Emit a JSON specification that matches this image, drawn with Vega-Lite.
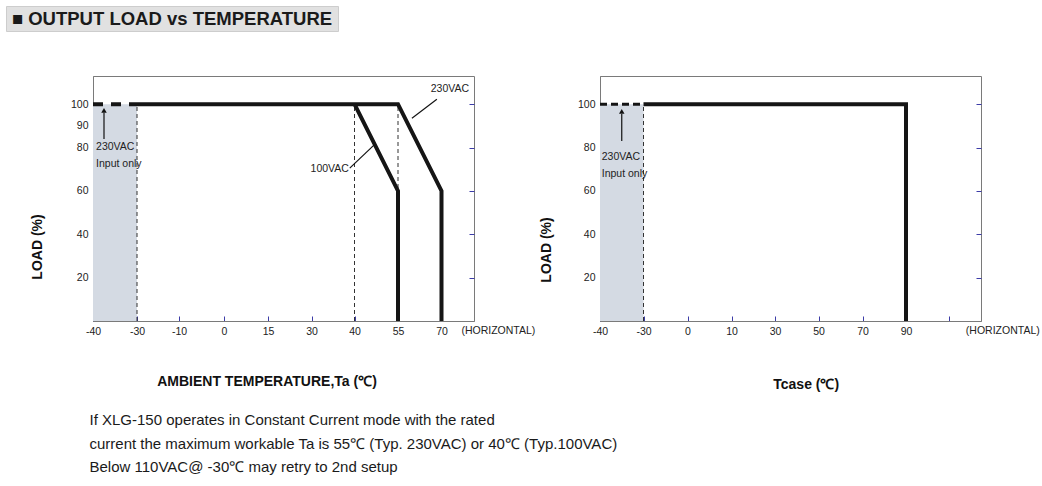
{
  "$schema": "https://vega.github.io/schema/vega-lite/v6.json",
  "padding": 5,
  "background": "white",
  "spacing": 43,
  "title": {
    "text": ["If XLG-150 operates in Constant Current mode with the rated", "current the maximum workable Ta is 55℃ (Typ. 230VAC) or 40℃ (Typ.100VAC)", "Below 110VAC@ -30℃ may retry to 2nd setup"],
    "orient": "bottom", "anchor": "start", "dx": 84, "offset": 21.5,
    "fontSize": 15, "fontWeight": "normal", "font": "Liberation Sans", "lineHeight": 23.5, "color": "#1a1a1a"
  },
  "vconcat": [
    {
      "width": 332, "height": 25,
      "view": {"fill": "#e1e1e1", "stroke": "#cdcdcd"},
      "data": {"values": [{"label": "■ OUTPUT LOAD vs TEMPERATURE"}]},
      "mark": {"type": "text", "fontSize": 18.5, "fontWeight": "bold", "font": "Liberation Sans", "color": "#1a1a1a", "align": "center", "baseline": "middle"},
      "encoding": {"text": {"field": "label"}}
    },
    {
      "hconcat": [
        {
          "width": 1, "height": 245,
          "view": {"stroke": null},
          "data": {"values": [{}]},
          "mark": {"type": "point", "opacity": 0, "size": 0},
          "encoding": {}
        },
        {
          "width": 381, "height": 245,
          "view": {"stroke": "#7a7a7a"},
          "resolve": {"axis": {"y": "independent"}},
          "layer": [
            {
              "data": {"values": [{"t": -40, "t2": -30, "lo": 0, "hi": 100}]},
              "mark": {"type": "rect", "color": "#d4dae3"},
              "encoding": {
                "x": {"field": "t", "type": "quantitative",
                  "scale": {"domain": [-40, -30, -10, 0, 15, 30, 40, 55, 70, 81.2], "range": [0, 44, 86, 131, 175, 218.5, 261.5, 305, 348.5, 381], "nice": false, "zero": false},
                  "axis": {"values": [-40, -30, -10, 0, 15, 30, 40, 55, 70], "labelExpr": "'' + datum.value", "title": "AMBIENT TEMPERATURE,Ta (℃)", "titleX": 173.5, "titleY": 60, "titleBaseline": "middle", "titleAlign": "center", "tickSize": -5, "labelPadding": 10, "labelAngle": 0, "labelFlush": false, "labelOverlap": false}},
                "x2": {"field": "t2"},
                "y": {"field": "lo", "type": "quantitative",
                  "scale": {"domain": [0, 113], "nice": false},
                  "axis": {"orient": "left", "values": [20, 40, 60, 80, 90, 100], "title": "LOAD (%)", "titleX": -55.7, "titleY": 170.5, "titleBaseline": "middle", "titleAlign": "center", "tickSize": -5, "labelPadding": 10, "minExtent": 82}},
                "y2": {"field": "hi"}
              }
            },
            {
              "data": {"values": [{"t": -30, "lo": 0, "hi": 100}, {"t": 40, "lo": 0, "hi": 100}, {"t": 55, "lo": 0, "hi": 100}]},
              "mark": {"type": "rule", "color": "#333333", "strokeWidth": 1, "strokeDash": [4, 3]},
              "encoding": {
                "x": {"field": "t", "type": "quantitative"},
                "y": {"field": "lo", "type": "quantitative", "axis": {"orient": "right", "values": [20, 40, 60, 80, 100], "labels": false, "domain": false, "tickSize": -5, "title": null, "minExtent": 0}},
                "y2": {"field": "hi"}
              }
            },
            {
              "data": {"values": [{"t": -40, "load": 100}, {"t": -30, "load": 100}]},
              "mark": {"type": "line", "color": "#151515", "strokeWidth": 4, "strokeDash": [10, 8]},
              "encoding": {
                "x": {"field": "t", "type": "quantitative"},
                "y": {"field": "load", "type": "quantitative", "axis": null}
              }
            },
            {
              "data": {"values": [
                {"s": "230VAC", "o": 1, "t": -30, "load": 100},
                {"s": "230VAC", "o": 2, "t": 55, "load": 100},
                {"s": "230VAC", "o": 3, "t": 70, "load": 60},
                {"s": "230VAC", "o": 4, "t": 70, "load": 0},
                {"s": "100VAC", "o": 1, "t": 40, "load": 100},
                {"s": "100VAC", "o": 2, "t": 55, "load": 60},
                {"s": "100VAC", "o": 3, "t": 55, "load": 0}
              ]},
              "mark": {"type": "line", "color": "#151515", "strokeWidth": 4, "strokeJoin": "miter"},
              "encoding": {
                "x": {"field": "t", "type": "quantitative"},
                "y": {"field": "load", "type": "quantitative", "axis": null},
                "detail": {"field": "s"},
                "order": {"field": "o"}
              }
            },
            {
              "data": {"values": [
                {"g": "a", "t": 68.4, "load": 102.3},
                {"g": "a", "t": 59.8, "load": 93.5},
                {"g": "b", "t": 38.9, "load": 70.5},
                {"g": "b", "t": 46.7, "load": 81.1},
                {"g": "c", "t": -37.5, "load": 84},
                {"g": "c", "t": -37.5, "load": 96}
              ]},
              "mark": {"type": "line", "color": "#111111", "strokeWidth": 1.2},
              "encoding": {
                "x": {"field": "t", "type": "quantitative"},
                "y": {"field": "load", "type": "quantitative", "axis": null},
                "detail": {"field": "g"}
              }
            },
            {
              "data": {"values": [{"t": -37.5, "load": 97.2}]},
              "mark": {"type": "point", "shape": "triangle-up", "filled": true, "color": "#111111", "size": 30, "opacity": 1},
              "encoding": {
                "x": {"field": "t", "type": "quantitative"},
                "y": {"field": "load", "type": "quantitative", "axis": null}
              }
            },
            {
              "data": {"values": [{"t": -39.3, "load": 80.2, "label": "230VAC"}, {"t": -39.3, "load": 72.4, "label": "Input only"}]},
              "mark": {"type": "text", "align": "left", "baseline": "middle", "fontSize": 10.5, "color": "#222222"},
              "encoding": {
                "x": {"field": "t", "type": "quantitative"},
                "y": {"field": "load", "type": "quantitative", "axis": null},
                "text": {"field": "label"}
              }
            },
            {
              "data": {"values": [{"t": 72.9, "load": 106.9, "label": "230VAC"}]},
              "mark": {"type": "text", "align": "center", "baseline": "middle", "fontSize": 10.5, "color": "#222222"},
              "encoding": {
                "x": {"field": "t", "type": "quantitative"},
                "y": {"field": "load", "type": "quantitative", "axis": null},
                "text": {"field": "label"}
              }
            },
            {
              "data": {"values": [{"t": 38.7, "load": 70.0, "label": "100VAC"}]},
              "mark": {"type": "text", "align": "right", "baseline": "middle", "fontSize": 10.5, "color": "#222222"},
              "encoding": {
                "x": {"field": "t", "type": "quantitative"},
                "y": {"field": "load", "type": "quantitative", "axis": null},
                "text": {"field": "label"}
              }
            },
            {
              "data": {"values": [{"t": 89.6, "load": 0, "label": "(HORIZONTAL)"}]},
              "mark": {"type": "text", "align": "center", "baseline": "top", "dy": 5, "fontSize": 10.5, "color": "#222222"},
              "encoding": {
                "x": {"field": "t", "type": "quantitative"},
                "y": {"field": "load", "type": "quantitative", "axis": null},
                "text": {"field": "label"}
              }
            }
          ]
        },
        {
          "width": 381, "height": 245,
          "view": {"stroke": "#7a7a7a"},
          "resolve": {"axis": {"y": "independent"}},
          "layer": [
            {
              "data": {"values": [{"t": -40, "t2": -30, "lo": 0, "hi": 100}]},
              "mark": {"type": "rect", "color": "#d4dae3"},
              "encoding": {
                "x": {"field": "t", "type": "quantitative",
                  "scale": {"domain": [-40, -30, 0, 10, 30, 50, 70, 90, 110, 124.7], "range": [0, 43.5, 87.5, 131.5, 175, 218.5, 262.5, 306, 349, 381], "nice": false, "zero": false},
                  "axis": {"values": [-40, -30, 0, 10, 30, 50, 70, 90, 110], "labelExpr": "datum.value == 110 ? '' : '' + datum.value", "title": "Tcase (℃)", "titleX": 205.7, "titleY": 63, "titleBaseline": "middle", "titleAlign": "center", "tickSize": -5, "labelPadding": 10, "labelAngle": 0, "labelFlush": false, "labelOverlap": false}},
                "x2": {"field": "t2"},
                "y": {"field": "lo", "type": "quantitative",
                  "scale": {"domain": [0, 113], "nice": false},
                  "axis": {"orient": "left", "values": [20, 40, 60, 80, 100], "title": "LOAD (%)", "titleX": -53.2, "titleY": 173.5, "titleBaseline": "middle", "titleAlign": "center", "ticks": false, "labelPadding": 5, "minExtent": 60}},
                "y2": {"field": "hi"}
              }
            },
            {
              "data": {"values": [{"t": -30, "lo": 0, "hi": 100}]},
              "mark": {"type": "rule", "color": "#333333", "strokeWidth": 1, "strokeDash": [4, 3]},
              "encoding": {
                "x": {"field": "t", "type": "quantitative"},
                "y": {"field": "lo", "type": "quantitative", "axis": {"orient": "right", "values": [20, 40, 60, 80, 100], "labels": false, "domain": false, "tickSize": -5, "title": null, "minExtent": 0}},
                "y2": {"field": "hi"}
              }
            },
            {
              "data": {"values": [{"t": -40, "load": 100}, {"t": -30, "load": 100}]},
              "mark": {"type": "line", "color": "#151515", "strokeWidth": 3, "strokeDash": [7, 4]},
              "encoding": {
                "x": {"field": "t", "type": "quantitative"},
                "y": {"field": "load", "type": "quantitative", "axis": null}
              }
            },
            {
              "data": {"values": [
                {"o": 1, "t": -30, "load": 100},
                {"o": 2, "t": 90, "load": 100},
                {"o": 3, "t": 90, "load": 0}
              ]},
              "mark": {"type": "line", "color": "#151515", "strokeWidth": 4, "strokeJoin": "miter"},
              "encoding": {
                "x": {"field": "t", "type": "quantitative"},
                "y": {"field": "load", "type": "quantitative", "axis": null},
                "order": {"field": "o"}
              }
            },
            {
              "data": {"values": [{"t": -35, "load": 83}, {"t": -35, "load": 95.5}]},
              "mark": {"type": "line", "color": "#111111", "strokeWidth": 1.2},
              "encoding": {
                "x": {"field": "t", "type": "quantitative"},
                "y": {"field": "load", "type": "quantitative", "axis": null}
              }
            },
            {
              "data": {"values": [{"t": -35, "load": 96.7}]},
              "mark": {"type": "point", "shape": "triangle-up", "filled": true, "color": "#111111", "size": 30, "opacity": 1},
              "encoding": {
                "x": {"field": "t", "type": "quantitative"},
                "y": {"field": "load", "type": "quantitative", "axis": null}
              }
            },
            {
              "data": {"values": [{"t": -39.6, "load": 75.6, "label": "230VAC"}, {"t": -39.6, "load": 67.7, "label": "Input only"}]},
              "mark": {"type": "text", "align": "left", "baseline": "middle", "fontSize": 10.5, "color": "#222222"},
              "encoding": {
                "x": {"field": "t", "type": "quantitative"},
                "y": {"field": "load", "type": "quantitative", "axis": null},
                "text": {"field": "label"}
              }
            },
            {
              "data": {"values": [{"t": 134.7, "load": 0, "label": "(HORIZONTAL)"}]},
              "mark": {"type": "text", "align": "center", "baseline": "top", "dy": 5, "fontSize": 10.5, "color": "#222222"},
              "encoding": {
                "x": {"field": "t", "type": "quantitative"},
                "y": {"field": "load", "type": "quantitative", "axis": null},
                "text": {"field": "label"}
              }
            }
          ]
        }
      ],
      "spacing": 3
    }
  ],
  "config": {
    "font": "Liberation Sans",
    "view": {"stroke": "#7a7a7a"},
    "axis": {"labelFont": "Liberation Sans", "labelFontSize": 10.5, "labelColor": "#222222", "domainColor": "#7a7a7a", "tickColor": "#3c3ca8", "grid": false, "titleFont": "Liberation Sans", "titleFontSize": 14, "titleFontWeight": "bold", "titleColor": "#111111"},
    "text": {"font": "Liberation Sans"}
  }
}
